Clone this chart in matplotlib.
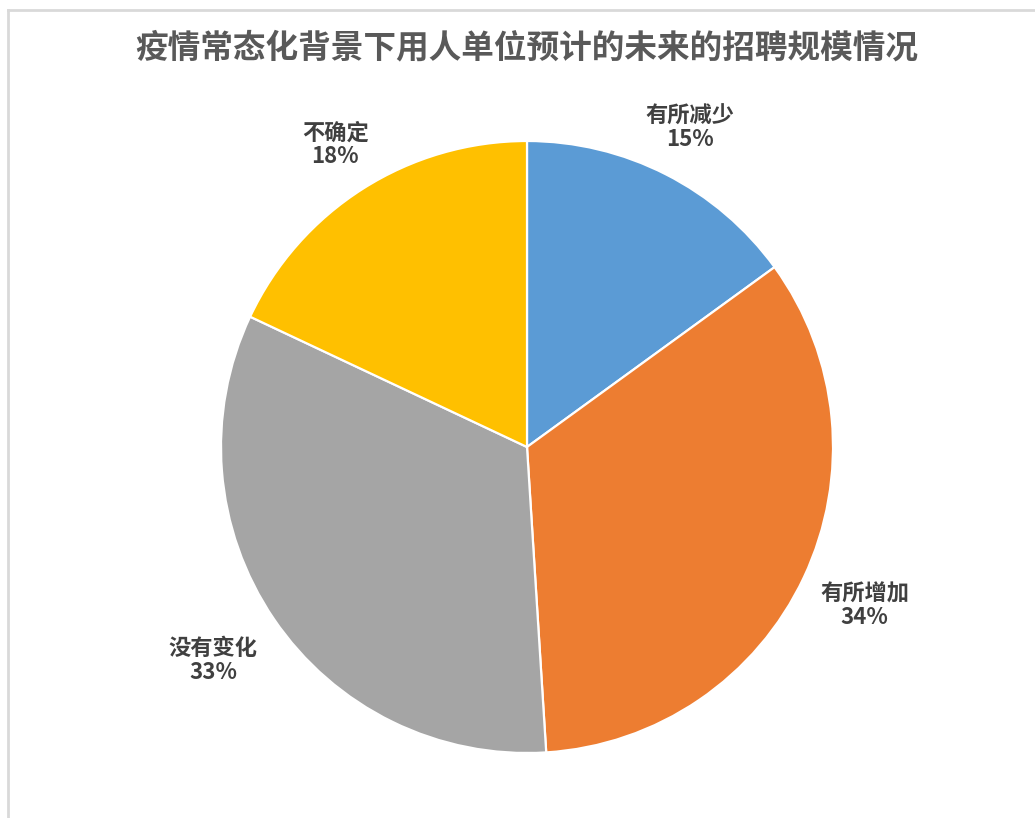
import matplotlib
matplotlib.use("Agg")
import matplotlib.pyplot as plt
import numpy as np
from matplotlib.lines import Line2D

plt.rcParams['font.family'] = ['Noto Sans CJK SC', 'DejaVu Sans']

# 招聘规模预期分布
categories = ["有所减少", "有所增加", "没有变化", "不确定"]
shares = [15, 34, 33, 18]
colors = ["#5B9BD5", "#ED7D31", "#A5A5A5", "#FFC000"]
label_dist = [1.17, 1.22, 1.24, 1.17]

title = "疫情常态化背景下用人单位预计的未来的招聘规模情况"

W, H = 1035, 818
fig = plt.figure(figsize=(W / 100, H / 100), dpi=100)
fig.patch.set_facecolor("white")

# chart frame (left and top edges)
fig.add_artist(Line2D([8 / W, 8 / W], [0, 1 - 10 / H], color="#D9D9D9", lw=2))
fig.add_artist(Line2D([8 / W, 1], [1 - 10 / H, 1 - 10 / H], color="#D9D9D9", lw=2))

cx, cy, r = 527, 447, 306
ax = fig.add_axes([(cx - r) / W, (H - cy - r) / H, 2 * r / W, 2 * r / H])
wedges, _ = ax.pie(
    shares,
    colors=colors,
    startangle=90,
    counterclock=False,
    radius=1.0,
    wedgeprops=dict(edgecolor="white", linewidth=1.6),
)
ax.set_xlim(-1, 1)
ax.set_ylim(-1, 1)
ax.set_aspect("equal")
ax.axis("off")

total = sum(shares)
for w, name, val, d in zip(wedges, categories, shares, label_dist):
    ang = np.deg2rad((w.theta1 + w.theta2) / 2)
    ax.text(d * np.cos(ang), d * np.sin(ang), f"{name}\n{val / total * 100:.0f}%",
            ha="center", va="center", fontsize=16, fontweight="bold",
            color="#404040", linespacing=1.05, clip_on=False)

fig.text(cx / W, 1 - 48 / H, title, ha="center", va="center",
         fontsize=23.5, fontweight="bold", color="#595959")

fig.savefig("out.png", dpi=100, facecolor="white")
